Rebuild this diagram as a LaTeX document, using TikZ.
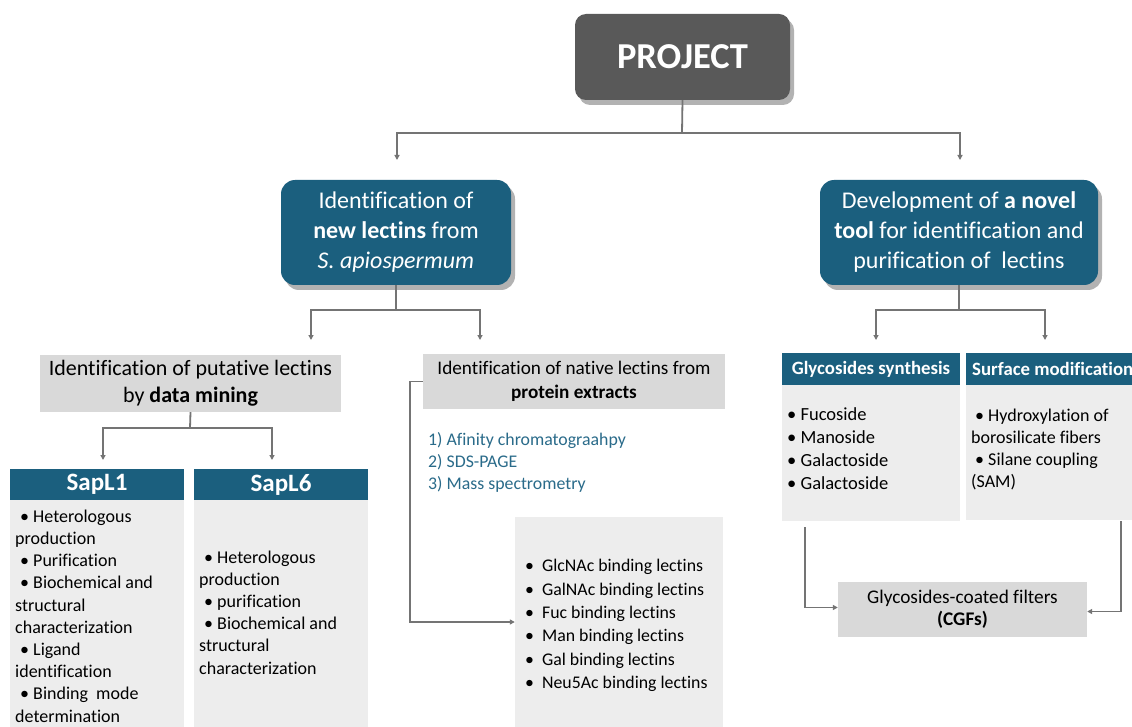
\documentclass[tikz,border=0pt]{standalone}
\usepackage{fontspec}
\setmainfont{Carlito}[Ligatures=NoCommon]
\usetikzlibrary{arrows.meta,shadows,calc}
\definecolor{dblue}{HTML}{1B5F7E}
\definecolor{dgray}{HTML}{595959}
\definecolor{mgrayc}{HTML}{D9D9D9}
\definecolor{lgrayc}{HTML}{EDEDED}
\definecolor{linec}{HTML}{747474}
\definecolor{txtblue}{HTML}{2A6B8A}
\tikzset{
  ln/.style={draw=linec,line width=1.8pt},
  arr/.style={ln,-{Triangle[length=5pt,width=5pt]}},
  projbox/.style={fill=dgray,rounded corners=11pt,text=white,inner sep=0pt,
     drop shadow={shadow xshift=4pt,shadow yshift=-5pt,opacity=0.3,fill=black}},
  bluebox/.style={fill=dblue,rounded corners=14pt,text=white,inner sep=0pt,align=center,
     font=\fontsize{24}{30}\selectfont,
     drop shadow={shadow xshift=4pt,shadow yshift=-5pt,opacity=0.3,fill=black}},
  graybox/.style={fill=mgrayc,inner sep=0pt,align=center},
  headbox/.style={fill=dblue,text=white,inner sep=0pt,font=\bfseries},
  bodybox/.style={fill=lgrayc,inner sep=0pt},
  listtxt/.style={inner sep=0pt,align=left,anchor=west,text=black},
}
\begin{document}
\begin{tikzpicture}[x=1pt,y=-1pt]
\useasboundingbox (0,0) rectangle (1132,727);
\clip (0,0) rectangle (1132,727);
\fill[white] (0,0) rectangle (1132,727);

% top
\node[projbox,minimum width=215pt,minimum height=86pt,font=\fontsize{36.5}{40}\selectfont\bfseries] (proj) at (682.5,57) {PROJECT};

\node[bluebox,minimum width=230pt,minimum height=105pt] (lblue) at (396,232.5)
  {Identification of\\\textbf{new lectins} from\\\textit{S. apiospermum}};
\node[bluebox,minimum width=278pt,minimum height=105pt] (rblue) at (959,232.5)
  {Development of \textbf{a novel}\\\textbf{tool} for identification and\\purification of~ lectins};

% second level
\node[graybox,minimum width=301pt,minimum height=57pt,font=\fontsize{22}{27}\selectfont] (lgray) at (190.5,383.5)
  {Identification of putative lectins\\by \textbf{data mining}};
\node[graybox,minimum width=302pt,minimum height=55pt,font=\fontsize{19.2}{24}\selectfont] (mgray) at (574,381.5)
  {Identification of native lectins from\\\textbf{protein extracts}};

% SapL boxes
\node[headbox,minimum width=174pt,minimum height=31pt,font=\fontsize{25}{26}\selectfont\bfseries] (s1h) at (97,484.5) {SapL1};
\node[bodybox,minimum width=174pt,minimum height=228pt] (s1b) at (97,614) {};
\node[headbox,minimum width=174pt,minimum height=31pt,font=\fontsize{25}{26}\selectfont\bfseries] (s6h) at (281,484.5) {SapL6};
\node[bodybox,minimum width=174pt,minimum height=228pt] (s6b) at (281,614) {};

\node[listtxt,font=\fontsize{18}{22.2}\selectfont] (s1t) at (15,616)
  {\hspace*{5pt}• Heterologous\\production\\\hspace*{5pt}• Purification\\\hspace*{5pt}• Biochemical and\\structural\\characterization\\\hspace*{5pt}• Ligand\\identification\\\hspace*{5pt}• Binding~ mode\\determination};
\node[listtxt,font=\fontsize{18}{22.2}\selectfont] (s6t) at (199,612.5)
  {\hspace*{5pt}• Heterologous\\production\\\hspace*{5pt}• purification\\\hspace*{5pt}• Biochemical and\\structural\\characterization};

% middle column
\node[listtxt,text=txtblue,font=\fontsize{17.8}{22}\selectfont] (steps) at (428,462)
  {1) Afinity chromatograahpy\\2) SDS-PAGE\\3) Mass spectrometry};
\node[bodybox,minimum width=208pt,minimum height=210pt] (mlist) at (619,622) {};
\node[listtxt,font=\fontsize{17.8}{23.3}\selectfont] (mlt) at (525,625.5)
  {• \ GlcNAc binding lectins\\• \ GalNAc binding lectins\\• \ Fuc binding lectins\\• \ Man binding lectins\\• \ Gal binding lectins\\• \ Neu5Ac binding lectins};

% right column
\node[headbox,minimum width=178pt,minimum height=32pt,font=\fontsize{18.8}{20}\selectfont\bfseries] (gh) at (871,369) {Glycosides synthesis};
\node[bodybox,minimum width=178pt,minimum height=136pt] (gb) at (871,453) {};
\node[listtxt,font=\fontsize{18.5}{23}\selectfont] (gt) at (787,448.5)
  {• Fucoside\\• Manoside\\• Galactoside\\• Galactoside};
\node[headbox,minimum width=180pt,minimum height=32pt] (sh) at (1056,369) {};
\node[anchor=west,inner sep=0pt,text=white,font=\fontsize{18.8}{20}\selectfont\bfseries] (sht) at (972,369) {Surface modification};
\node[bodybox,minimum width=180pt,minimum height=135pt] (sb) at (1056,452.5) {};
\node[listtxt,font=\fontsize{18}{22}\selectfont] (st) at (971,449)
  {\hspace*{4pt}• Hydroxylation of\\borosilicate fibers\\\hspace*{4pt}• Silane coupling\\(SAM)};

\node[graybox,minimum width=249pt,minimum height=55pt,font=\fontsize{19.3}{22}\selectfont] (cgf) at (962.5,609.5)
  {Glycosides-coated filters\\\textbf{(CGFs)}};

% connectors
\coordinate (j1) at (682,133);
\coordinate (j2) at (396,310);
\coordinate (j3) at (190,428);
\coordinate (j4) at (959,310);
\coordinate (t1) at (311,340);
\coordinate (t2) at (480,340);
\coordinate (t3) at (103,460);
\coordinate (t4) at (272,460);
\coordinate (t5) at (876,340);
\coordinate (t6) at (1045,340);
\coordinate (t7) at (397,160);
\coordinate (t8) at (960,160);
\coordinate (g1) at (805,527);
\coordinate (g2) at (1121,521);

\draw[ln] (proj.south) -- (j1);
\draw[arr] (j1) -| (t7);
\draw[arr] (j1) -| (t8);

\draw[ln] (lblue.south) -- (j2);
\draw[arr] (j2) -| (t1);
\draw[arr] (j2) -| (t2);

\draw[ln] (lgray.south) -- (j3);
\draw[arr] (j3) -| (t3);
\draw[arr] (j3) -| (t4);

\draw[ln] (rblue.south) -- (j4);
\draw[arr] (j4) -| (t5);
\draw[arr] (j4) -| (t6);

\draw[arr] (mgray.west) -- ++(-13,0) |- (mlist.west);

\draw[arr] (g1) |- ([yshift=2pt]cgf.west);
\draw[arr] (g2) |- ([yshift=-2pt]cgf.east);
\end{tikzpicture}
\end{document}
